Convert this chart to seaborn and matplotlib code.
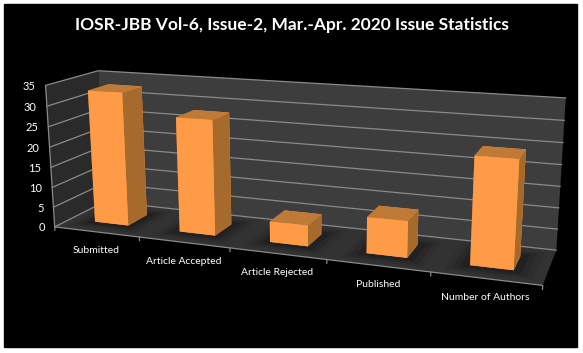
import matplotlib
matplotlib.use('Agg')
import matplotlib.pyplot as plt
import seaborn as sns
from matplotlib.patches import Rectangle
from mpl_toolkits.mplot3d import proj3d
from mpl_toolkits.mplot3d.art3d import Poly3DCollection

categories = ['Submitted', 'Article Accepted', 'Article Rejected', 'Published', 'Number of Authors']
values = [33, 28, 5, 8.5, 24.5]
z_ticks = [0, 5, 10, 15, 20, 25, 30, 35]
title = 'IOSR-JBB Vol-6, Issue-2, Mar.-Apr. 2020 Issue Statistics'

sns.set_theme(style='white')
plt.rcParams['font.family'] = ['Lato', 'DejaVu Sans']

fig = plt.figure(figsize=(5.83, 3.53), dpi=100, facecolor='white')
# black plate with a thin white margin
fig.add_artist(Rectangle((4 / 583, 6 / 353), 573 / 583, 343 / 353, transform=fig.transFigure, color='black', zorder=-1))

ax = fig.add_axes([0.499 - .5, 0.516 - .5, 1, 1], projection='3d', proj_type='persp', focal_length=0.536)
ax.computed_zorder = False
ax.set_xlim(0, 5, view_margin=0)
ax.set_ylim(0, 1, view_margin=0)
ax.set_zlim(0, 35, view_margin=0)
ax.view_init(14.188, -69.443, 0.221)
ax.set_box_aspect((5, 1.012, 1.494), zoom=1.480)
ax.set_xticks([])
ax.set_yticks([])
ax.set_zticks([])
ax.set_axis_off()
ax.patch.set_alpha(0)

# walls and floor
top = z_ticks[-1]
n = len(categories)
walls = [([(0, 0, 0), (n, 0, 0), (n, 1, 0), (0, 1, 0)], '#323232'),
         ([(0, 0, 0), (0, 1, 0), (0, 1, top), (0, 0, top)], '#2a2a2a'),
         ([(0, 1, 0), (n, 1, 0), (n, 1, top), (0, 1, top)], '#3d3d3d')]
for poly, col in walls:
    ax.add_collection3d(Poly3DCollection([poly], facecolor=col, edgecolor='none', zorder=1), autolim=False)

# gridlines on both walls
grid = '#8a8a8a'
for z in z_ticks:
    ax.plot([0, 0, n], [0, 1, 1], [z, z, z], color=grid, lw=0.9, zorder=2)
ax.plot([0, 0], [0, 0], [0, top], color=grid, lw=0.9, zorder=2)
ax.plot([0, n], [0, 0], [0, 0], color=grid, lw=0.9, zorder=2)
for i in range(n + 1):
    ax.plot([i, i], [0, 0], [0, -0.9], color=grid, lw=0.9, zorder=2)

# soft shadows under the bars
for i in range(n):
    for grow, alpha in [(0.2, 0.12), (0.14, 0.2), (0.08, 0.3)]:
        x0, x1, y0, y1 = i + .3 - grow, i + .7 + grow, .3 - grow, .7 + grow
        shadow = Poly3DCollection([[(x0, y0, 0), (x1, y0, 0), (x1, y1, 0), (x0, y1, 0)]],
                                  facecolor='#141414', edgecolor='none', alpha=alpha, zorder=3)
        ax.add_collection3d(shadow, autolim=False)

# bars, faces in the order bottom, top, front, back, left, right
face_colors = ['#ff9a47', '#c07a38', '#ff9a47', '#ff9a47', '#a76a2d', '#a76a2d']
for i, v in enumerate(values):
    bar = ax.bar3d(i + .3, .3, 0, .4, .4, v, color=face_colors, shade=False, zorder=5 + i)
    bar.set_edgecolor('none')

for artist in ax.get_children():
    artist.set_clip_on(False)

# labels sit at a fixed pixel offset from the projected axis positions
ax.apply_aspect()
M = ax.get_proj()
for z in z_ticks:
    px, py, _ = proj3d.proj_transform(0, 0, z, M)
    ax.annotate(str(z), (px, py), xytext=(-10, -1), textcoords='offset pixels', ha='right', va='center',
                color='white', fontsize=8, annotation_clip=False)
for i, name in enumerate(categories):
    px, py, _ = proj3d.proj_transform(i + .5, 0, 0, M)
    ax.annotate(name, (px, py), xytext=(0, -19), textcoords='offset pixels', ha='center', va='center',
                color='white', fontsize=7.5, annotation_clip=False)

fig.text(0.5, 1 - 25 / 353, title, ha='center', va='center', color='white', fontsize=12.5, fontweight='bold')

fig.savefig('out.png', dpi=100, facecolor='white')
